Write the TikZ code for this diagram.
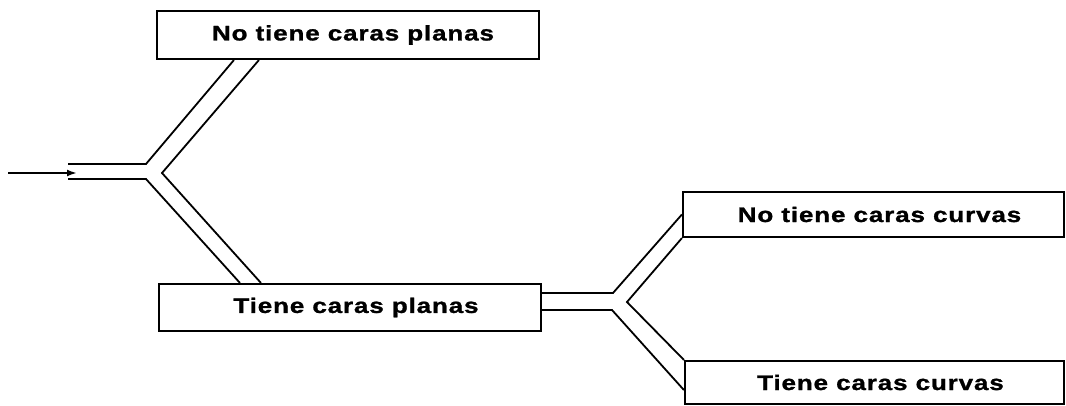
\documentclass[tikz,border=0pt]{standalone}
\usepackage{fontspec}
\usetikzlibrary{calc,arrows.meta}
\newfontfamily\lblfont[FakeStretch=1.24,LetterSpace=4,BoldFeatures={FakeBold=1.2}]{Liberation Sans}

\tikzset{
  box/.style={draw=black, line width=2.2pt, fill=white, inner sep=0pt,
    font=\lblfont\bfseries\fontsize{21}{25}\selectfont},
  channel/.style={draw=black, line width=1.8pt, line join=miter},
  feed/.style={draw=black, line width=2pt, -{Latex[length=10pt,width=7pt]}}
}

\begin{document}
\begin{tikzpicture}[x=1pt,y=-1pt]
  \useasboundingbox (0,0) rectangle (1066,406);

  % classification boxes
  \node[box, minimum width=382, minimum height=48] (top) at (348,35) {\hspace*{10pt}No tiene caras planas};
  \node[box, minimum width=382, minimum height=47] (mid) at (350,307.5) {\hspace*{12pt}Tiene caras planas};
  \node[box, minimum width=381, minimum height=45] (nc) at (873.5,214.5) {\hspace*{12pt}No tiene caras curvas};
  \node[box, minimum width=379, minimum height=43] (tc) at (874.5,382.5) {\hspace*{12pt}Tiene caras curvas};

  % entry of the first fork
  \coordinate (src) at (8,173);
  \coordinate (tip) at (77,173);
  \coordinate (in1) at (68,164);
  \coordinate (in2) at (68,179);
  \coordinate (ja) at (146,164);
  \coordinate (jb) at (146,179);
  \coordinate (jc) at (162,173);

  % second fork
  \coordinate (ka) at (613,293);
  \coordinate (kb) at (612,310);
  \coordinate (kc) at (627,302);

  % incoming arrow
  \draw[feed] (src) -- (tip);

  % first fork: double-walled channel splitting in a Y
  \draw[channel] (in1) -- (ja) -- ($(top.south west)+(78,0)$);
  \draw[channel] (in2) -- (jb) -- ($(mid.north west)+(82,0)$);
  \draw[channel] ($(top.south west)+(103,0)$) -- (jc) -- ($(mid.north west)+(103,0)$);

  % second fork
  \draw[channel] ($(mid.east)+(0,-14.5)$) -- (ka) -- (nc.west);
  \draw[channel] ($(mid.east)+(0,2.5)$) -- (kb) -- ($(tc.west)+(0,7.5)$);
  \draw[channel] (nc.south west) -- (kc) -- (tc.north west);
\end{tikzpicture}
\end{document}
